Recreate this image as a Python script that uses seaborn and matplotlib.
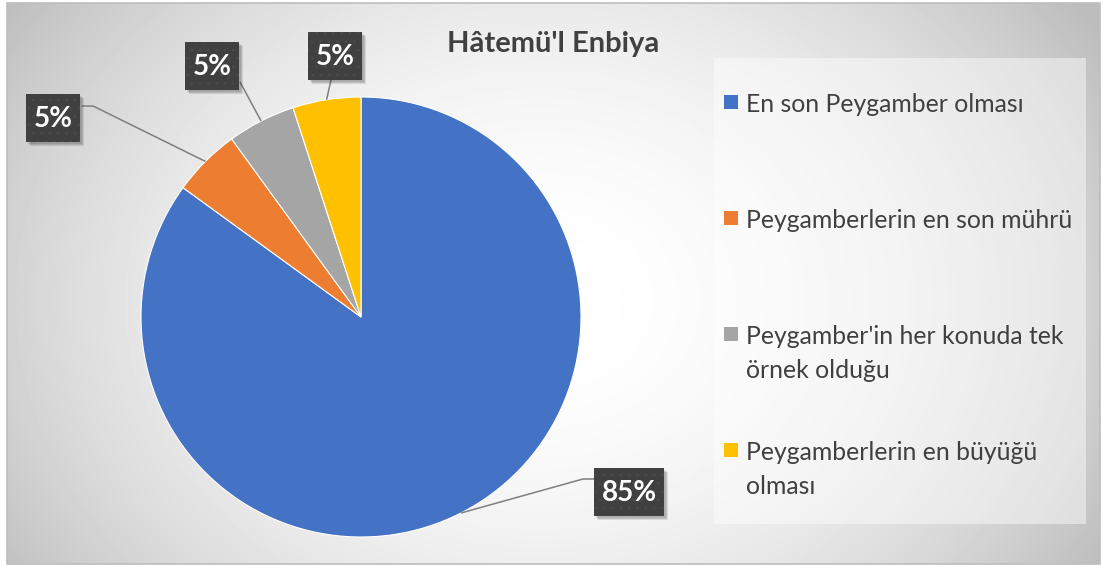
import numpy as np
import matplotlib.pyplot as plt
from matplotlib.patches import Rectangle
import seaborn as sns

# data
categories = ["En son Peygamber olması",
              "Peygamberlerin en son mührü",
              "Peygamber'in her konuda tek\nörnek olduğu",
              "Peygamberlerin en büyüğü\nolması"]
counts = [17, 1, 1, 1]
slice_colors = ["#4472C4", "#ED7D31", "#A5A5A5", "#FFC000"]
chart_title = "Hâtemü'l Enbiya"

sns.set_style("white")
palette = sns.color_palette(slice_colors)
plt.rcParams['font.family'] = ['Lato', 'DejaVu Sans']
plt.rcParams['hatch.linewidth'] = 0.6

W, H = 1101, 566
fig = plt.figure(figsize=(W / 100, H / 100), dpi=100)

# background with a soft radial grey gradient (pixel coordinates)
bg = fig.add_axes([0, 0, 1, 1], zorder=0)
yy, xx = np.mgrid[3:564, 7:1100]
d = np.sqrt(((xx - 540) / 600) ** 2 + ((yy - 300) / 480) ** 2)
shade = np.clip(1 - 0.22 * d ** 2, 0.74, 1)
bg.imshow(shade, cmap='gray', vmin=0, vmax=1, extent=(7, 1100, 564, 3), aspect='auto')
bg.add_patch(Rectangle((7, 3), 1093, 561, fill=False, ec='#bdbdbd', lw=1.2))
bg.set_xlim(0, W)
bg.set_ylim(H, 0)
bg.axis('off')

# pie
ax = fig.add_axes([141 / W, (H - 537) / H, 440 / W, 440 / H], zorder=1)
wedges, _ = ax.pie(counts, colors=palette, startangle=90, counterclock=False, radius=1,
                   wedgeprops=dict(edgecolor='white', linewidth=0.8))
ax.set_xlim(-1, 1)
ax.set_ylim(-1, 1)
ax.set_aspect('equal')

# overlay for labels, leader lines, title and legend (pixel coords, y down)
ov = fig.add_axes([0, 0, 1, 1], zorder=2)
ov.set_xlim(0, W)
ov.set_ylim(H, 0)
ov.axis('off')


def edge_point(w):
    mid = np.deg2rad((w.theta1 + w.theta2) / 2)
    x = w.center[0] + w.r * np.cos(mid)
    y = w.center[1] + w.r * np.sin(mid)
    return ov.transData.inverted().transform(ax.transData.transform((x, y)))


label_pos = [(629, 492), (53, 118), (212, 66), (335, 56)]
leader_end = [(595, 479), (82, 106), (240, 82), (331, 80)]
leader_knee = [(583, 479), (93, 106), None, None]

renderer = fig.canvas.get_renderer()
total = sum(counts)
for w, c, pos, end, knee in zip(wedges, counts, label_pos, leader_end, leader_knee):
    pts = [edge_point(w)] + ([knee] if knee else []) + [end]
    xs, ys = zip(*pts)
    ov.plot(xs, ys, color='#7f7f7f', lw=1.1, zorder=1, solid_capstyle='butt')
    t = ov.text(pos[0], pos[1] + 1, f"{round(100 * c / total)}%", ha='center', va='center',
                fontsize=20, fontweight='bold', color='white', zorder=5)
    tw = t.get_window_extent(renderer).width
    bw, bh = tw + 15, 48
    x0, y0 = pos[0] - bw / 2, pos[1] - bh / 2
    # soft drop shadow
    for k, a in enumerate([0.10, 0.10, 0.10]):
        ov.add_patch(Rectangle((x0 + 2 + k, y0 + 2 + k), bw, bh, fc='black', alpha=a,
                               lw=0, zorder=3))
    ov.add_patch(Rectangle((x0, y0), bw, bh, fc='#404040', ec='#4b4b4b', lw=0,
                           hatch='..', zorder=4))

ov.text(553, 44, chart_title, ha='center', va='center', fontsize=21,
        fontweight='bold', color='#404040')

# legend
ov.add_patch(Rectangle((714, 58), 372, 466, fc='white', alpha=0.45, lw=0))
legend_y = [102, 218, 334, 450]
for w, lab, y in zip(wedges, categories, legend_y):
    ov.add_patch(Rectangle((724, y - 7), 14, 14, fc=w.get_facecolor(), lw=0))
    for i, line in enumerate(lab.split('\n')):
        ov.text(746, y + 34 * i, line, ha='left', va='center_baseline', fontsize=17.8,
                color='#404040')

fig.savefig('out.png', dpi=100)
